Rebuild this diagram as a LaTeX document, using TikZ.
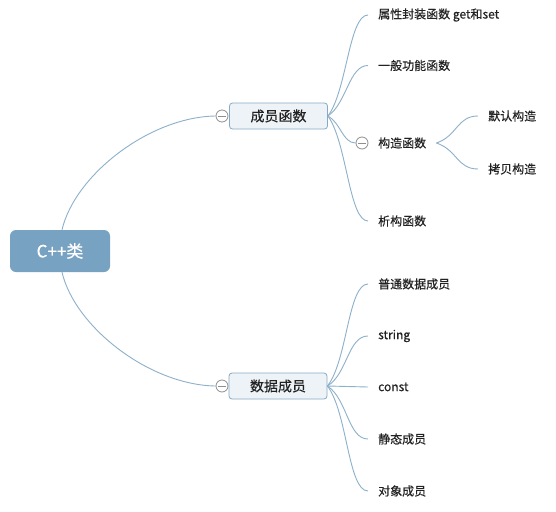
\documentclass[tikz,border=0pt]{standalone}
\usepackage{fontspec}
\setmainfont[FakeBold=0.35]{Noto Sans CJK SC}
\usetikzlibrary{calc}
\definecolor{rootfill}{HTML}{77A2C1}
\definecolor{boxfill}{HTML}{EEF3F7}
\definecolor{boxline}{HTML}{86AAC6}
\definecolor{connc}{HTML}{8DB0CB}
\definecolor{txt}{HTML}{222222}
\definecolor{knobc}{HTML}{8F8F8F}
\begin{document}
\begin{tikzpicture}[x=1pt,y=-1pt,
  rootbox/.style={fill=rootfill, rounded corners=6pt, minimum width=100pt, minimum height=42pt,
    text=white, font=\fontsize{17}{20}\selectfont, inner sep=0pt},
  topic/.style={draw=boxline, fill=boxfill, line width=0.8pt, rounded corners=3pt,
    minimum width=98pt, minimum height=26pt, inner sep=0pt, text=txt,
    font=\fontsize{14}{17}\selectfont},
  leaf/.style={anchor=west, inner xsep=10pt, inner ysep=2pt, text=txt,
    font=\fontsize{12}{14}\selectfont},
  knob/.style={circle, draw=knobc, fill=white, line width=0.8pt, minimum size=12pt, inner sep=0pt,
    path picture={\draw[knobc, line width=0.8pt]
      ([xshift=-3.6pt]path picture bounding box.center) -- ([xshift=3.6pt]path picture bounding box.center);}},
  connline/.style={draw=connc, line width=0.9pt}]
\useasboundingbox (0,0) rectangle (556,511);
\fill[white] (0,0) rectangle (556,511);

% nodes
\node[rootbox] (root) at (60,251) {C++类};
\node[topic] (mf) at (278.5,116) {成员函数};
\node[topic] (dm) at (278,386) {数据成员};
\node[knob] (k1) at (222,116) {};
\node[knob] (k2) at (222,386) {};

\node[leaf] (c1) at (368,15) {属性封装函数 get和set};
\node[leaf] (c2) at (368,65.5) {一般功能函数};
\node[knob] (k3) at (362,143) {};
\node[leaf] (c3) at (368,143) {构造函数};
\node[leaf] (c4) at (368,221) {析构函数};
\node[leaf] (g1) at (478,116) {默认构造};
\node[leaf] (g2) at (478,169) {拷贝构造};

\node[leaf] (d1) at (368,284) {普通数据成员};
\node[leaf] (d2) at (368,336) {string};
\node[leaf] (d3) at (368,387) {const};
\node[leaf] (d4) at (368,439) {静态成员};
\node[leaf] (d5) at (368,491) {对象成员};

% connectors
\draw[connline] ([xshift=2pt]root.north) .. controls +(13,-55) and +(-66,1) .. (k1.west);
\draw[connline] ([xshift=2pt]root.south) .. controls +(13,55) and +(-66,-1) .. (k2.west);

\draw[connline] (mf.east) .. controls +(19,-25) and +(-19,0) .. (c1.west);
\draw[connline] (mf.east) .. controls +(19,-13) and +(-19,0) .. (c2.west);
\draw[connline] (mf.east) .. controls +(13,7) and +(-13,0) .. (k3.west);
\draw[connline] (mf.east) .. controls +(19,26) and +(-19,0) .. (c4.west);

\draw[connline] (c3.east) .. controls +(21,-7) and +(-21,0) .. (g1.west);
\draw[connline] (c3.east) .. controls +(21,7) and +(-21,0) .. (g2.west);

\draw[connline] (dm.east) .. controls +(20,-25) and +(-20,0) .. (d1.west);
\draw[connline] (dm.east) .. controls +(20,-12) and +(-20,0) .. (d2.west);
\draw[connline] (dm.east) -- (d3.west);
\draw[connline] (dm.east) .. controls +(20,13) and +(-20,0) .. (d4.west);
\draw[connline] (dm.east) .. controls +(20,26) and +(-20,0) .. (d5.west);
\end{tikzpicture}
\end{document}
